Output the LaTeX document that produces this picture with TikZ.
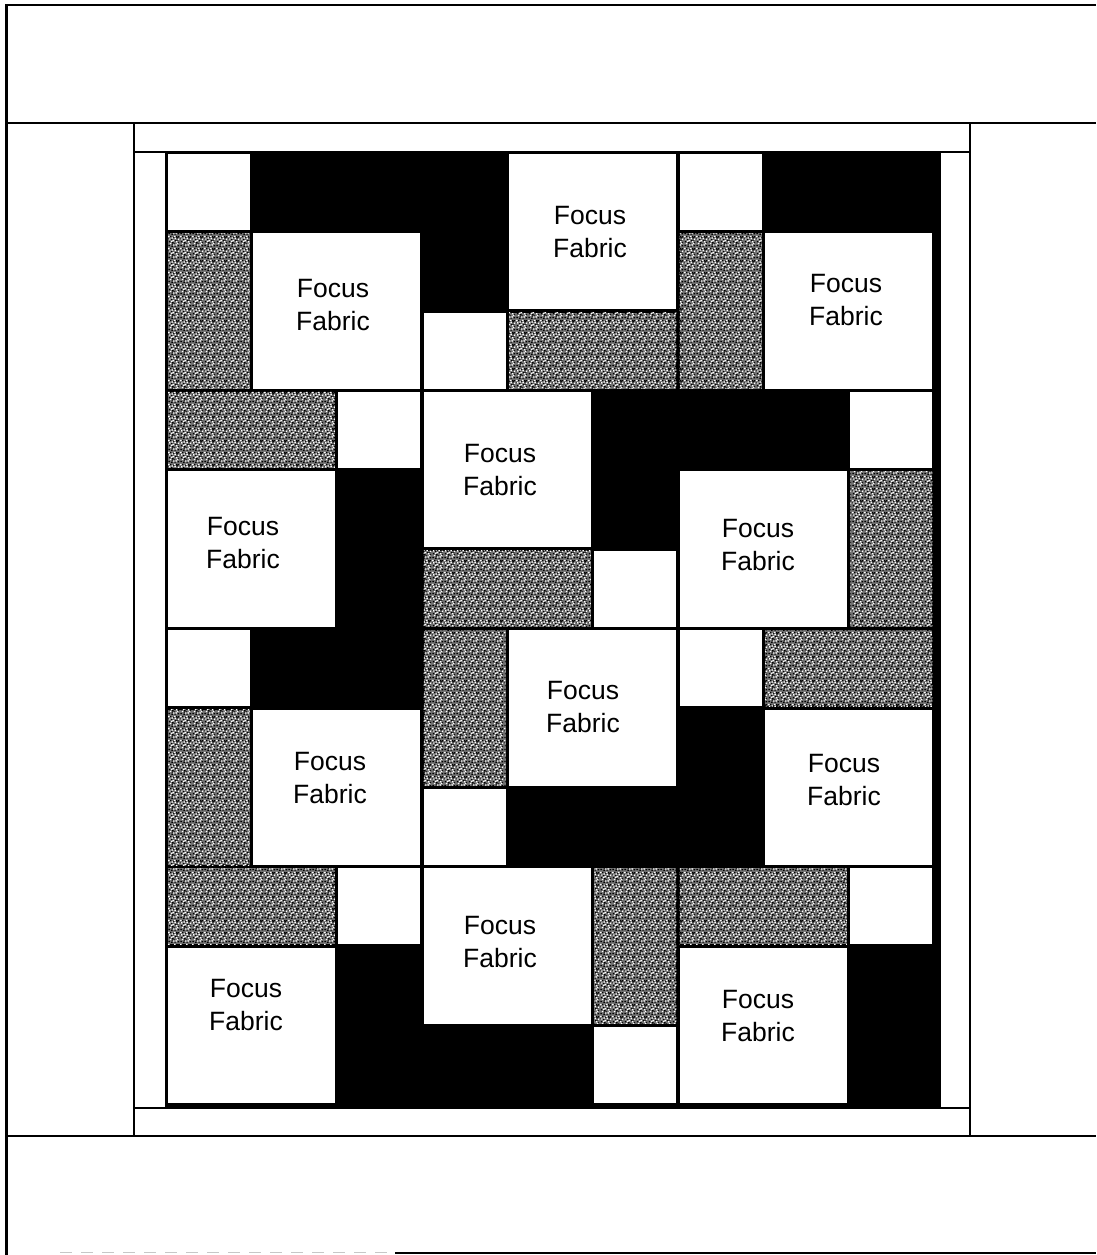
\documentclass[tikz,border=0pt]{standalone}
\usepackage{fontspec}
\setmainfont{Liberation Sans}
\usetikzlibrary{patterns}

\newcommand\spk[2]{\pgfpathrectangle{\pgfpoint{#1pt}{#2pt}}{\pgfqpoint{1.6pt}{1.4pt}}}
\pgfdeclarepatternformonly{speckdark}{\pgfpointorigin}{\pgfqpoint{12pt}{12pt}}{\pgfqpoint{12pt}{12pt}}{%
  \spk{0.5}{1}\spk{3}{7}\spk{6}{2.5}\spk{9}{9}\spk{10.3}{4}\spk{2}{10.5}\spk{7.5}{6}%
  \spk{4.5}{4.5}\spk{10.3}{0.6}\spk{1}{5}\spk{8}{10.5}\spk{5.5}{9.5}\spk{3.5}{0.2}\spk{9.5}{6.8}%
  \spk{6.8}{0.3}\spk{0.3}{8.2}\spk{4}{2.6}\spk{10.2}{10.2}%
  \pgfusepath{fill}}
\pgfdeclarepatternformonly{specklight}{\pgfpointorigin}{\pgfqpoint{12pt}{12pt}}{\pgfqpoint{12pt}{12pt}}{%
  \spk{2}{3}\spk{5}{6}\spk{8}{1.5}\spk{10.3}{7.5}\spk{1}{8}\spk{6.5}{10.5}\spk{9.5}{3}%
  \spk{4}{9}\spk{7}{8.5}\spk{0.2}{10.5}\spk{3}{5.5}\spk{8.5}{5}\spk{5.5}{1.5}%
  \pgfusepath{fill}}

\tikzset{
  frameline/.style={line width=2.9pt, draw=black},
  quiltbg/.style={fill=black},
  smallsq/.style={fill=white},
  focussq/.style={fill=white},
  graysq/.style={preaction={fill=black!55}, pattern=speckdark, pattern color=black,
                 postaction={pattern=specklight, pattern color=white}},
  focuslabel/.style={font=\fontsize{26.5}{33}\selectfont, align=center, inner sep=0pt},
}
% piece on the unit grid: style, col from, col to, row from, row to
\newcommand\qpiece[5]{\path[#1] ({166+85.333*#2+1.7},{152+79.417*#4+1.7}) rectangle ({166+85.333*#3-1.7},{152+79.417*#5-1.7});}

\begin{document}
\begin{tikzpicture}[x=1pt,y=-1pt]
\useasboundingbox (0,0) rectangle (1096,1255);

% quilt centre (black ground)
\path[quiltbg] (166,152) rectangle (940,1108);

% grey pieces
\qpiece{graysq}{0}{1}{1}{3}
\qpiece{graysq}{4}{6}{2}{3}
\qpiece{graysq}{6}{7}{1}{3}
\qpiece{graysq}{0}{2}{3}{4}
\qpiece{graysq}{3}{5}{5}{6}
\qpiece{graysq}{8}{9}{4}{6}
\qpiece{graysq}{0}{1}{7}{9}
\qpiece{graysq}{3}{4}{6}{8}
\qpiece{graysq}{7}{9}{6}{7}
\qpiece{graysq}{0}{2}{9}{10}
\qpiece{graysq}{5}{6}{9}{11}
\qpiece{graysq}{6}{8}{9}{10}

% small light squares
\qpiece{smallsq}{0}{1}{0}{1}
\qpiece{smallsq}{3}{4}{2}{3}
\qpiece{smallsq}{6}{7}{0}{1}
\qpiece{smallsq}{2}{3}{3}{4}
\qpiece{smallsq}{5}{6}{5}{6}
\qpiece{smallsq}{8}{9}{3}{4}
\qpiece{smallsq}{0}{1}{6}{7}
\qpiece{smallsq}{3}{4}{8}{9}
\qpiece{smallsq}{6}{7}{6}{7}
\qpiece{smallsq}{2}{3}{9}{10}
\qpiece{smallsq}{5}{6}{11}{12}
\qpiece{smallsq}{8}{9}{9}{10}

% focus fabric squares
\qpiece{focussq}{1}{3}{1}{3}
\qpiece{focussq}{4}{6}{0}{2}
\qpiece{focussq}{7}{9}{1}{3}
\qpiece{focussq}{0}{2}{4}{6}
\qpiece{focussq}{3}{5}{3}{5}
\qpiece{focussq}{6}{8}{4}{6}
\qpiece{focussq}{4}{6}{6}{8}
\qpiece{focussq}{1}{3}{7}{9}
\qpiece{focussq}{7}{9}{7}{9}
\qpiece{focussq}{3}{5}{9}{11}
\qpiece{focussq}{0}{2}{10}{12}
\qpiece{focussq}{6}{8}{10}{12}

% labels
\node[focuslabel] (t1)  at (333,305)  {Focus\\Fabric};
\node[focuslabel] (t2)  at (590,232)  {Focus\\Fabric};
\node[focuslabel] (t3)  at (846,300)  {Focus\\Fabric};
\node[focuslabel] (t4)  at (243,543)  {Focus\\Fabric};
\node[focuslabel] (t5)  at (500,470)  {Focus\\Fabric};
\node[focuslabel] (t6)  at (758,545)  {Focus\\Fabric};
\node[focuslabel] (t7)  at (583,707)  {Focus\\Fabric};
\node[focuslabel] (t8)  at (330,778)  {Focus\\Fabric};
\node[focuslabel] (t9)  at (844,780)  {Focus\\Fabric};
\node[focuslabel] (t10) at (500,942)  {Focus\\Fabric};
\node[focuslabel] (t11) at (246,1005) {Focus\\Fabric};
\node[focuslabel] (t12) at (758,1016) {Focus\\Fabric};

% frame and border lines
\draw[frameline] (6.5,1255) -- (6.5,5) -- (1096,5);
\draw[frameline] (6.5,123) -- (1096,123);
\draw[frameline] (6.5,1136) -- (1096,1136);
\draw[frameline] (134,123) -- (134,1136);
\draw[frameline] (970,123) -- (970,1136);
\draw[frameline] (134,152) -- (970,152);
\draw[frameline] (134,1108) -- (970,1108);
\draw[frameline] (166,152) -- (166,1108);
\draw[frameline] (940,152) -- (940,1108);
% faint bottom edge
\draw[black!22, line width=1pt, dash pattern=on 12pt off 9pt] (60,1252.5) -- (395,1252.5);
\draw[line width=2pt] (395,1252.5) -- (1096,1252.5);
\end{tikzpicture}
\end{document}
